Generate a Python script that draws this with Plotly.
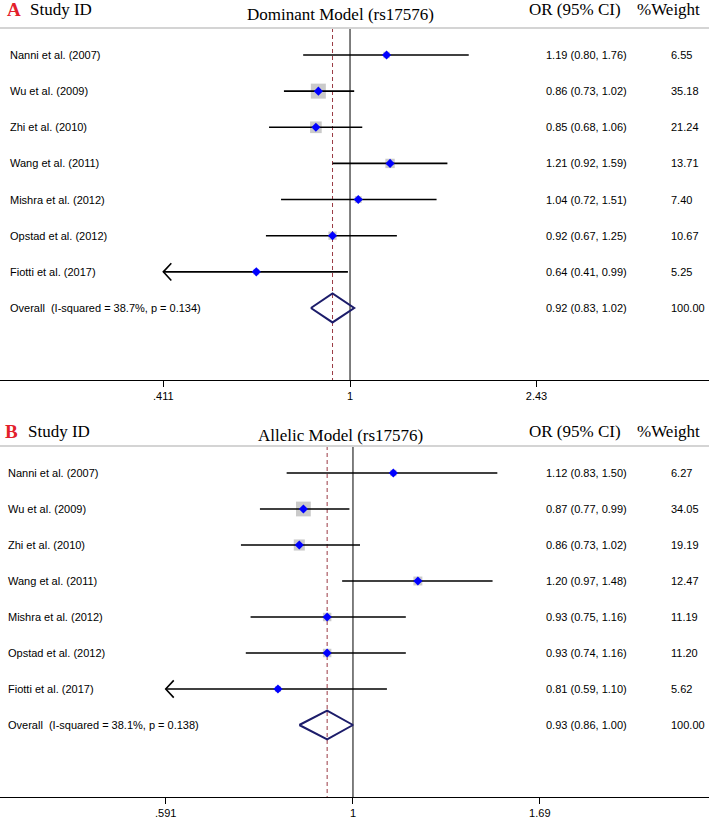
import math
import plotly.graph_objects as go

# ---------------- data ----------------
studies = ["Nanni et al. (2007)", "Wu et al. (2009)", "Zhi et al. (2010)", "Wang et al. (2011)",
           "Mishra et al. (2012)", "Opstad et al. (2012)", "Fiotti et al. (2017)"]

A_or = [1.19, 0.86, 0.85, 1.21, 1.04, 0.92, 0.64]
A_lo = [0.80, 0.73, 0.68, 0.92, 0.72, 0.67, 0.41]
A_hi = [1.76, 1.02, 1.06, 1.59, 1.51, 1.25, 0.99]
A_w = [6.55, 35.18, 21.24, 13.71, 7.40, 10.67, 5.25]
A_overall = [0.92, 0.83, 1.02]
A_het = "Overall  (I-squared = 38.7%, p = 0.134)"
A_ticks = [0.411, 1, 2.43]
A_ticklabels = [".411", "1", "2.43"]
A_title = "Dominant Model (rs17576)"

B_or = [1.12, 0.87, 0.86, 1.20, 0.93, 0.93, 0.81]
B_lo = [0.83, 0.77, 0.73, 0.97, 0.75, 0.74, 0.59]
B_hi = [1.50, 0.99, 1.02, 1.48, 1.16, 1.16, 1.10]
B_w = [6.27, 34.05, 19.19, 12.47, 11.19, 11.20, 5.62]
B_overall = [0.93, 0.86, 1.00]
B_het = "Overall  (I-squared = 38.1%, p = 0.138)"
B_ticks = [0.591, 1, 1.69]
B_ticklabels = [".591", "1", "1.69"]
B_title = "Allelic Model (rs17576)"

W, H = 709, 819
SERIF = "Liberation Serif"
SANS = "Liberation Sans"

fig = go.Figure()
annotations = []
shapes = []


def py(px):
    return 1 - px / H


def panel(n, letter, title, ors, los, his, ws, ov, het, ticks, ticklabels,
          xrange_log, top_px, bot_px, row0_px, rowstep_px, hdr_y, title_y, label_x):
    xa = "x" if n == 1 else "x%d" % n
    ya = "y" if n == 1 else "y%d" % n
    yr_top = (top_px - row0_px) / rowstep_px
    yr_bot = (bot_px - row0_px) / rowstep_px
    nrow = len(ors)
    rows = list(range(nrow))
    lo_clip, hi_clip = ticks[0], ticks[-1]
    log_per_px = (xrange_log[1] - xrange_log[0]) / W

    # reference line at 1 and dashed line at overall estimate
    fig.add_trace(go.Scatter(x=[1, 1], y=[yr_top, yr_bot], mode="lines",
                             line=dict(color="black", width=1), xaxis=xa, yaxis=ya,
                             hoverinfo="skip", showlegend=False))
    fig.add_trace(go.Scatter(x=[ov[0], ov[0]], y=[yr_top, yr_bot], mode="lines",
                             line=dict(color="#9a3a44", width=1, dash="4px,3px"),
                             xaxis=xa, yaxis=ya, hoverinfo="skip", showlegend=False))

    # weight boxes
    fig.add_trace(go.Scatter(x=ors, y=rows, mode="markers",
                             marker=dict(symbol="square", color="#b4b4b4",
                                         size=[2.53 * math.sqrt(w) for w in ws], line=dict(width=0)),
                             xaxis=xa, yaxis=ya, hoverinfo="skip", showlegend=False))

    # CI lines (clipped at axis limits), arrows where clipped
    cx, cy = [], []
    ax_, ay_ = [], []
    for i in rows:
        l = max(los[i], lo_clip)
        h = min(his[i], hi_clip)
        cx += [l, h, None]
        cy += [i, i, None]
        if los[i] < lo_clip:
            f = 10 ** (8 * log_per_px)
            ax_ += [lo_clip * f, lo_clip, lo_clip * f, None]
            ay_ += [i - 0.24, i, i + 0.24, None]
        if his[i] > hi_clip:
            f = 10 ** (8 * log_per_px)
            ax_ += [hi_clip / f, hi_clip, hi_clip / f, None]
            ay_ += [i - 0.24, i, i + 0.24, None]
    fig.add_trace(go.Scatter(x=cx, y=cy, mode="lines", line=dict(color="black", width=1.6),
                             xaxis=xa, yaxis=ya, hoverinfo="skip", showlegend=False))
    if ax_:
        fig.add_trace(go.Scatter(x=ax_, y=ay_, mode="lines", line=dict(color="black", width=1.6),
                                 xaxis=xa, yaxis=ya, hoverinfo="skip", showlegend=False))

    # point estimates
    fig.add_trace(go.Scatter(x=ors, y=rows, mode="markers",
                             marker=dict(symbol="diamond", color="#0000ff", size=7, line=dict(width=0)),
                             xaxis=xa, yaxis=ya, hoverinfo="skip", showlegend=False))

    # overall diamond
    r = nrow
    hh = 0.4
    fig.add_trace(go.Scatter(x=[ov[1], ov[0], ov[2], ov[0], ov[1]],
                             y=[r, r - hh, r, r + hh, r], mode="lines",
                             line=dict(color="#1c1c6a", width=2),
                             xaxis=xa, yaxis=ya, hoverinfo="skip", showlegend=False))

    # text columns
    labels = studies + [het]
    or_txt = ["%.2f (%.2f, %.2f)" % (ors[i], los[i], his[i]) for i in rows] + \
             ["%.2f (%.2f, %.2f)" % (ov[0], ov[1], ov[2])]
    w_txt = ["%.2f" % w for w in ws] + ["100.00"]
    for i in range(nrow + 1):
        annotations.append(dict(x=label_x / W, y=i, xref="paper", yref=ya, text=labels[i],
                                showarrow=False, xanchor="left", yanchor="middle",
                                font=dict(family=SANS, size=11, color="black")))
        annotations.append(dict(x=544 / W, y=i, xref="paper", yref=ya, text=or_txt[i],
                                showarrow=False, xanchor="left", yanchor="middle",
                                font=dict(family=SANS, size=11, color="black")))
        annotations.append(dict(x=669 / W, y=i, xref="paper", yref=ya, text=w_txt[i],
                                showarrow=False, xanchor="left", yanchor="middle",
                                font=dict(family=SANS, size=11, color="black")))

    # headers
    annotations.append(dict(x=(label_x - 3) / W, y=py(hdr_y), xref="paper", yref="paper",
                            text="<b>%s</b>" % letter, showarrow=False, xanchor="left", yanchor="middle",
                            font=dict(family=SERIF, size=19, color="#e3202a")))
    annotations.append(dict(x=(label_x + 20) / W, y=py(hdr_y), xref="paper", yref="paper",
                            text="Study ID", showarrow=False, xanchor="left", yanchor="middle",
                            font=dict(family=SERIF, size=17, color="black")))
    annotations.append(dict(x=340 / W, y=py(title_y), xref="paper", yref="paper",
                            text=title, showarrow=False, xanchor="center", yanchor="middle",
                            font=dict(family=SERIF, size=17, color="black")))
    annotations.append(dict(x=527 / W, y=py(hdr_y), xref="paper", yref="paper",
                            text="OR (95% CI)", showarrow=False, xanchor="left", yanchor="middle",
                            font=dict(family=SERIF, size=17, color="black")))
    annotations.append(dict(x=635 / W, y=py(hdr_y), xref="paper", yref="paper",
                            text="%Weight", showarrow=False, xanchor="left", yanchor="middle",
                            font=dict(family=SERIF, size=17, color="black")))
    # header rule
    shapes.append(dict(type="line", xref="paper", yref="paper", x0=0, x1=1,
                       y0=py(top_px), y1=py(top_px), line=dict(color="#d4d4d4", width=2)))

    xaxis = dict(type="log", range=xrange_log, domain=[0, 1], anchor=ya,
                 tickvals=ticks, ticktext=ticklabels, ticks="outside", ticklen=6,
                 tickcolor="black", showline=True, linecolor="black", linewidth=1,
                 showgrid=False, zeroline=False, fixedrange=True,
                 tickfont=dict(family=SANS, size=11, color="black"))
    yaxis = dict(range=[yr_bot, yr_top], domain=[py(bot_px), py(top_px)], anchor=xa,
                 visible=False, showgrid=False, zeroline=False, fixedrange=True)
    return xaxis, yaxis


xa1, ya1 = panel(1, "A", A_title, A_or, A_lo, A_hi, A_w, A_overall, A_het, A_ticks, A_ticklabels,
                 [-0.7239, 0.7424], 28, 380, 55, 36.14, 10, 14, 8)
xa2, ya2 = panel(2, "B", B_title, B_or, B_lo, B_hi, B_w, B_overall, B_het, B_ticks, B_ticklabels,
                 [-0.4306, 0.4343], 446, 797, 473, 36.0, 431, 435, 6)

fig.update_layout(width=W, height=H, margin=dict(l=0, r=0, t=0, b=0),
                  paper_bgcolor="white", plot_bgcolor="white",
                  xaxis=xa1, yaxis=ya1, xaxis2=xa2, yaxis2=ya2,
                  annotations=annotations, shapes=shapes, showlegend=False)

fig.write_html("out.html", config={"displayModeBar": False},
               post_script="document.body.style.margin='0';document.body.style.padding='0';"
                           "document.body.style.overflow='hidden';")
